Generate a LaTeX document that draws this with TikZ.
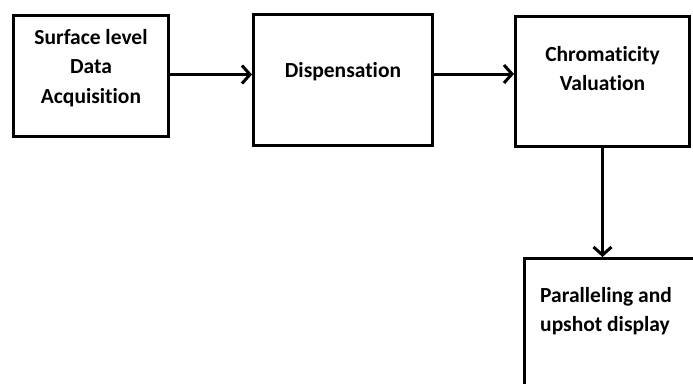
\documentclass[tikz,border=0pt]{standalone}
\usepackage{fontspec}
\setmainfont{Carlito}[Ligatures=NoCommon]
\usetikzlibrary{arrows.meta,positioning}
\tikzstyle{block}=[rectangle, draw=black, line width=3pt, anchor=north west,
    inner sep=0pt]
\tikzstyle{blank}=[rectangle, align=center, inner sep=0pt,
    font=\bfseries\fontsize{21.5}{29.5}\selectfont]
\tikzstyle{line}=[draw, line width=3pt, -{Straight Barb[length=8pt,width=18pt,line width=3pt]}]

\begin{document}
\begin{tikzpicture}[x=1pt,y=-1pt]
  \useasboundingbox (0,0) rectangle (693,383);
  \clip (0,0) rectangle (693,383);

  % boxes
  \node [block, minimum width=155pt, minimum height=121pt] (acq)    at (12,14)  {};
  \node [block, minimum width=179pt, minimum height=131pt] (disp)   at (252,13) {};
  \node [block, minimum width=174pt, minimum height=130pt] (chrom)  at (514,15) {};
  \node [block, minimum width=220pt, minimum height=170pt] (result) at (523,257) {};

  % texts
  \node [blank] (acqtext)    at ([yshift=8pt]acq.center)    {Surface level\\Data\\Acquisition};
  \node [blank] (disptext)   at ([yshift=8pt]disp.center)   {Dispensation};
  \node [blank] (chromtext)  at ([yshift=13pt]chrom.center) {Chromaticity\\Valuation};
  \node [blank, align=left, anchor=west] (resulttext) at (540,311) {Paralleling and\\upshot display};

  \begin{scope}[every path/.style=line]
    \path ([yshift=1.5pt]acq.east) -- ([yshift=1.5pt]acq.east -| disp.west);
    \path ([yshift=6pt]disp.east) -- ([yshift=6pt]disp.east -| chrom.west);
    \path (chrom.south) -- (chrom.south |- result.north);
  \end{scope}
\end{tikzpicture}
\end{document}
